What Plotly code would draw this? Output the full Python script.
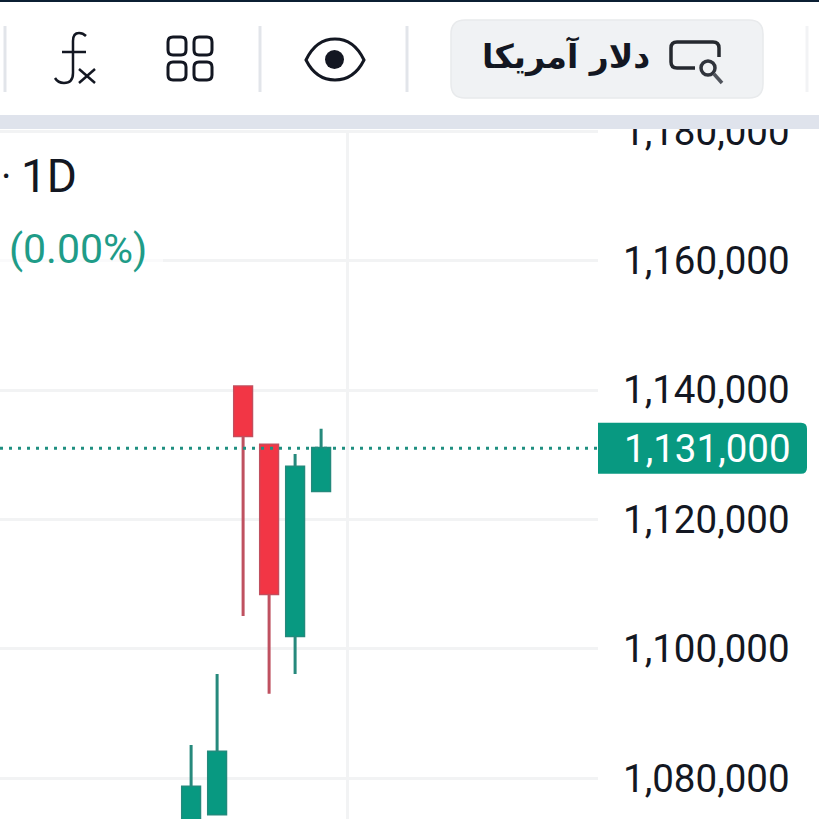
import re

import plotly.graph_objects as go

# candle data
DAYS = [0, 1, 2, 3, 4, 5]
OPENS = [1073200, 1074470, 1140500, 1131500, 1102020, 1124440]
HIGHS = [1085130, 1096100, 1140500, 1131500, 1130100, 1134000]
LOWS = [1072000, 1074470, 1105070, 1093060, 1096100, 1124440]
CLOSES = [1078640, 1084050, 1132940, 1108520, 1128100, 1131000]

Y_TICKS = [1080000, 1100000, 1120000, 1140000, 1160000, 1180000]
Y_TICK_LABELS = ["1,080,000", "1,100,000", "1,120,000", "1,140,000", "1,160,000", "1,180,000"]
X_GRID = [6]
LAST_PRICE = 1131000
LAST_PRICE_LABEL = "1,131,000"
INTERVAL_DOT = "·"
INTERVAL_LABEL = "1D"
CHANGE_LABEL = "(0.00%)"
BUTTON_LABEL = "دلار آمریکا"

GREEN = "#089981"
RED = "#f23645"
INK = "#131722"
GRID = "#f2f3f4"
SIZE = 819
PLOT_RIGHT = 598
PLOT_TOP = 130
FONT = "Roboto"


# paper coordinates from screenshot pixels (plot area has only a right margin)
def px_x(x):
    return x / PLOT_RIGHT


def px_y(y):
    return 1 - y / SIZE


def px_path(path):
    """Turn an SVG path written in screenshot pixels into paper coordinates."""
    tokens = re.findall(r"[MLCQZ]|-?[\d.]+", path)
    out, is_x = [], True
    for tok in tokens:
        if tok in "MLCQZ":
            out.append(tok)
            is_x = True
        else:
            out.append(f"{px_x(float(tok)):.5f}" if is_x else f"{px_y(float(tok)):.5f}")
            is_x = not is_x
    return " ".join(out)


def round_rect(x0, y0, x1, y1, r):
    return (
        f"M {x0 + r} {y0} L {x1 - r} {y0} Q {x1} {y0} {x1} {y0 + r} "
        f"L {x1} {y1 - r} Q {x1} {y1} {x1 - r} {y1} L {x0 + r} {y1} "
        f"Q {x0} {y1} {x0} {y1 - r} L {x0} {y0 + r} Q {x0} {y0} {x0 + r} {y0} Z"
    )


fig = go.Figure()

# wicks first, in the muted colour
fig.add_trace(go.Candlestick(
    x=DAYS, open=OPENS, high=HIGHS, low=LOWS, close=CLOSES,
    increasing=dict(line=dict(color="#26897c", width=3), fillcolor="#26897c"),
    decreasing=dict(line=dict(color="#bf5160", width=3), fillcolor="#bf5160"),
    hoverinfo="skip", showlegend=False,
))
# bodies on top, no wick and a hairline outline so the edges land on the values
fig.add_trace(go.Candlestick(
    x=DAYS, open=OPENS, close=CLOSES,
    high=[max(o, c) for o, c in zip(OPENS, CLOSES)],
    low=[min(o, c) for o, c in zip(OPENS, CLOSES)],
    increasing=dict(line=dict(color=GREEN, width=0.5), fillcolor=GREEN),
    decreasing=dict(line=dict(color=RED, width=0.5), fillcolor=RED),
    hoverinfo="skip", showlegend=False,
))

chrome = dict(xref="paper", yref="paper", layer="above")
shapes = [
    # last price line and tag
    dict(type="line", xref="paper", x0=0, x1=1, y0=LAST_PRICE, y1=LAST_PRICE, layer="above",
         line=dict(color="#1f8f80", width=3, dash="3px,6px")),
    dict(type="path", xref="paper", yref="y", ysizemode="pixel", yanchor=LAST_PRICE, layer="above",
         path=f"M 1 -25.5 L {px_x(801)} -25.5 Q {px_x(807)} -25.5 {px_x(807)} -19.5 "
              f"L {px_x(807)} 19.5 Q {px_x(807)} 25.5 {px_x(801)} 25.5 L 1 25.5 Z",
         fillcolor=GREEN, line=dict(width=0)),
    # veil behind the legend text
    dict(type="rect", x0=px_x(0), x1=px_x(163), y0=px_y(228), y1=px_y(272),
         fillcolor="rgba(255,255,255,0.6)", line=dict(width=0), **chrome),
    # toolbar background and band under it
    dict(type="rect", x0=px_x(0), x1=px_x(SIZE), y0=px_y(0), y1=px_y(115),
         fillcolor="white", line=dict(width=0), **chrome),
    dict(type="rect", x0=px_x(0), x1=px_x(SIZE), y0=px_y(115), y1=px_y(129),
         fillcolor="#dfe3ec", line=dict(width=0), **chrome),
    dict(type="rect", x0=px_x(0), x1=px_x(SIZE), y0=px_y(0), y1=px_y(2),
         fillcolor="#0b1f33", line=dict(width=0), **chrome),
    # search button
    dict(type="path", path=px_path(round_rect(451, 20, 763, 98, 14)), fillcolor="#f0f2f4",
         line=dict(color="#e8eaec", width=1.5), **chrome),
    # magnifier icon
    dict(type="path", path=px_path("M 695 68 L 677 68 Q 671 68 671 62 L 671 48 Q 671 42 677 42 "
                                   "L 713 42 Q 719 42 719 48 L 719 57"),
         line=dict(color="#25292f", width=3.5), **chrome),
    dict(type="circle", x0=px_x(701), x1=px_x(715), y0=px_y(61), y1=px_y(75),
         line=dict(color="#30343c", width=3.5), **chrome),
    dict(type="line", x0=px_x(714), x1=px_x(722), y0=px_y(74), y1=px_y(83),
         line=dict(color="#50545c", width=3.5), **chrome),
    # fx icon
    dict(type="path", path=px_path("M 86 36 Q 83 33 79 33 Q 73 33 73 41 L 73 73 Q 73 83 64 83 Q 58 83 55 78"),
         line=dict(color=INK, width=2.5), **chrome),
    dict(type="line", x0=px_x(62), x1=px_x(86), y0=px_y(52), y1=px_y(52),
         line=dict(color=INK, width=2.5), **chrome),
    dict(type="line", x0=px_x(79), x1=px_x(95), y0=px_y(69), y1=px_y(83),
         line=dict(color=INK, width=2.5), **chrome),
    dict(type="line", x0=px_x(95), x1=px_x(79), y0=px_y(69), y1=px_y(83),
         line=dict(color=INK, width=2.5), **chrome),
    # eye icon
    dict(type="path", path=px_path("M 306 60 Q 316 39 335 39 Q 354 39 364 60 Q 354 80 335 80 Q 316 80 306 60 Z"),
         line=dict(color=INK, width=3), **chrome),
    dict(type="circle", x0=px_x(325), x1=px_x(344), y0=px_y(50), y1=px_y(69),
         fillcolor=INK, line=dict(width=0), **chrome),
]
# separators in the toolbar
for sep_x, sep_color in [(5, "#e2e5ea"), (260, "#e2e5ea"), (407, "#e2e5ea"), (807, "#f2f3f5")]:
    shapes.append(dict(type="line", x0=px_x(sep_x), x1=px_x(sep_x), y0=px_y(26), y1=px_y(92),
                       line=dict(color=sep_color, width=3), **chrome))
# the four squares icon
for sq_x in [168, 194]:
    for sq_y in [37, 62]:
        shapes.append(dict(type="path", path=px_path(round_rect(sq_x, sq_y, sq_x + 18, sq_y + 18, 5)),
                           line=dict(color=INK, width=3), **chrome))

annotations = [
    dict(text=LAST_PRICE_LABEL, xref="paper", yref="y", x=px_x(622), y=LAST_PRICE,
         xanchor="left", yanchor="middle", showarrow=False, font=dict(family=FONT, size=38.5, color="white")),
    dict(text=INTERVAL_DOT, xref="paper", yref="paper", x=0, y=px_y(176), borderpad=0,
         xanchor="left", yanchor="middle", showarrow=False, font=dict(family=FONT, size=40, color=INK)),
    dict(text=INTERVAL_LABEL, xref="paper", yref="paper", x=px_x(19), y=px_y(176),
         xanchor="left", yanchor="middle", showarrow=False, font=dict(family=FONT, size=46, color=INK)),
    dict(text=CHANGE_LABEL, xref="paper", yref="paper", x=px_x(7), y=px_y(249),
         xanchor="left", yanchor="middle", showarrow=False, font=dict(family=FONT, size=41, color="#1f9c88")),
    dict(text=BUTTON_LABEL, xref="paper", yref="paper", x=px_x(566), y=px_y(57),
         xanchor="center", yanchor="middle", showarrow=False,
         font=dict(family="DejaVu Sans", size=33, color=INK, weight="bold")),
]

fig.update_layout(
    width=SIZE,
    height=SIZE,
    margin=dict(l=0, r=SIZE - PLOT_RIGHT, t=0, b=0, autoexpand=False),
    paper_bgcolor="white",
    plot_bgcolor="white",
    showlegend=False,
    boxgap=0.05,
    shapes=shapes,
    annotations=annotations,
    xaxis=dict(
        range=[-7.35, 15.65],
        tickvals=X_GRID,
        showticklabels=False,
        ticks="",
        showgrid=True,
        gridcolor=GRID,
        gridwidth=3,
        zeroline=False,
        showline=False,
        rangeslider=dict(visible=False),
    ),
    yaxis=dict(
        domain=[0, 1 - PLOT_TOP / SIZE],
        side="right",
        range=[1073694, 1180185],
        tickvals=Y_TICKS,
        ticktext=Y_TICK_LABELS,
        ticks="",
        ticklabelstandoff=24,
        tickfont=dict(family=FONT, size=38.5, color=INK),
        showgrid=True,
        gridcolor=GRID,
        gridwidth=3,
        zeroline=False,
        showline=False,
    ),
)

# the page's default body margin would push the whole picture off by 8px
fig.write_html("out.html", config=dict(displayModeBar=False),
               post_script="document.body.style.margin='0';")
